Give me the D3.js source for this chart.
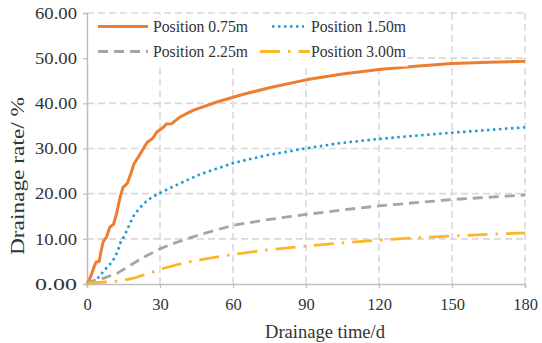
<!DOCTYPE html>
<html><head><meta charset="utf-8">
<script src="https://cdn.jsdelivr.net/npm/d3@7/dist/d3.min.js"></script>
<style>
html,body{margin:0;padding:0;background:#fff;}
svg text{font-family:"Liberation Serif","Times New Roman",serif;fill:#333;}
</style></head><body>
<svg id="chart" width="542" height="343"></svg>
<script>
const seriesNames = ["Position 0.75m","Position 1.50m","Position 2.25m","Position 3.00m"];
const xTicks = [0,30,60,90,120,150,180];
const yTicks = [0,10,20,30,40,50,60];

const days075 = [0,0.3,1.5,2.9,3.8,5,5.6,6.6,8,9.4,10.9,12.1,13.6,14.8,16.6,18,19.3,21.4,23.5,24.8,26.9,28.6,29.6,31.6,32.5,34.8,38.3,43.8,53.4,64.3,75.4,90,105,120,135,150,165,180];
const vals075 = [0,0.3,1.6,3.8,4.9,4.9,6.8,9.3,10.4,12.6,13.2,15.5,19.2,21.4,22.3,24.4,26.6,28.4,30.3,31.4,32.2,33.6,34,34.8,35.4,35.5,37,38.5,40.3,42,43.5,45.2,46.5,47.5,48.2,48.8,49.1,49.3];

const days150 = [0,3.2,5,6.6,8.4,10.4,12.5,13.9,15.5,17.3,19.1,21.4,24.2,26.9,29.6,31.6,38.3,46.5,60.2,73.8,89.6,104,119.7,134.1,149.9,165,180];
const vals150 = [0,0.7,1.6,2.7,3.8,4.9,7.1,9.4,10.8,13,15,16.7,18.2,19.3,20.0,20.6,22.3,24.3,26.8,28.5,30,31.2,32.1,32.8,33.5,34.1,34.7];

const days225 = [0,0.8,7,12.5,18,23.5,30.4,37.2,46.8,60,75,90,105,120,135,150,165,180];
const vals225 = [0,0.5,1.3,2.4,4.2,6,7.9,9.3,11.0,13.0,14.3,15.4,16.4,17.3,18.0,18.7,19.2,19.7];

const days300 = [0,0.8,9,13.8,19.3,26.2,30.3,39.9,48.1,60.5,75,90.4,105,119.2,135,149.3,165,180];
const vals300 = [0,0.2,0.5,0.7,1.3,2.5,3.3,4.7,5.5,6.6,7.6,8.4,9.1,9.7,10.2,10.6,11,11.3];

const colors = ["#ED7D31","#1B9AD6","#A5A5A5","#FDB52A"];
const dashes = [null,"2.5,3.5","10,6","20,8,2.5,8"];
const widths = [3,2.6,2.8,2.8];

const series = [
  {name:seriesNames[0], d:days075, v:vals075},
  {name:seriesNames[1], d:days150, v:vals150},
  {name:seriesNames[2], d:days225, v:vals225},
  {name:seriesNames[3], d:days300, v:vals300}
];

const L=87,R=525,T=13,B=284;
const svg = d3.select("#chart");
const x = d3.scaleLinear().domain([0,180]).range([L,R]);
const y = d3.scaleLinear().domain([0,60]).range([B,T]);

// grid
const grid = svg.append("g");
grid.selectAll("line.h").data(yTicks.filter(t=>t>0)).join("line")
  .attr("x1",L).attr("x2",R).attr("y1",d=>y(d)).attr("y2",d=>y(d))
  .attr("stroke","#d9d9d9").attr("stroke-width",1.6).attr("stroke-dasharray","7,4");
grid.selectAll("line.v").data(xTicks.filter(t=>t>0)).join("line")
  .attr("y1",T).attr("y2",B).attr("x1",d=>x(d)).attr("x2",d=>x(d))
  .attr("stroke","#d9d9d9").attr("stroke-width",1.6).attr("stroke-dasharray","7,4");

// axes
const xAxis = svg.append("g").attr("transform",`translate(0,${B})`)
  .call(d3.axisBottom(x).tickValues(xTicks).tickSize(4).tickPadding(6).tickFormat(d3.format("d")));
const yAxis = svg.append("g").attr("transform",`translate(${L},0)`)
  .call(d3.axisLeft(y).tickValues(yTicks).tickSize(4).tickPadding(6).tickFormat(d3.format(".2f")));
[xAxis,yAxis].forEach(a=>{
  a.select(".domain").attr("stroke","#bfbfbf").attr("stroke-width",1.6);
  a.selectAll(".tick line").attr("stroke","#bfbfbf").attr("stroke-width",1.2);
  a.selectAll("text").attr("font-size","16.5px").attr("fill","#333")
    .style("font-family","'Liberation Serif',serif");
});
xAxis.selectAll("text").attr("dy","0.95em");
yAxis.selectAll("text").attr("x",-10);
yAxis.selectAll(".tick text").each(function(){ this.setAttribute("textLength", 42); this.setAttribute("lengthAdjust","spacingAndGlyphs"); });

// lines
const line = d3.line().x(p=>x(p[0])).y(p=>y(p[1]));
const lineG = svg.append("g");
series.forEach((s,i)=>{
  const pts = s.d.map((dd,k)=>[dd,s.v[k]]);
  lineG.append("path").attr("d",line(pts)).attr("fill","none")
    .attr("stroke",colors[i]).attr("stroke-width",widths[i])
    .attr("stroke-dasharray",dashes[i]).attr("stroke-linejoin","round");
});

// legend
const lg = svg.append("g");
lg.append("rect").attr("x",L+1.5).attr("y",T+1.5).attr("width",319).attr("height",52).attr("fill","#fff");
const legPos = [[98,148,153,26.5],[272,304,311,26.5],[98,148,153,51.5],[260,310,311,51.5]];
series.forEach((s,i)=>{
  const [x1,x2,tx,ty] = legPos[i];
  lg.append("line").attr("x1",x1).attr("x2",x2).attr("y1",ty).attr("y2",ty)
    .attr("stroke",colors[i]).attr("stroke-width",widths[i]).attr("stroke-dasharray",dashes[i]);
  lg.append("text").attr("x",tx).attr("y",ty).attr("dy","0.35em")
    .attr("font-size","17px").attr("textLength",95).attr("lengthAdjust","spacingAndGlyphs").text(s.name);
});

// titles
svg.append("text").attr("x",325).attr("y",332).attr("dy","0.35em").attr("text-anchor","middle")
  .attr("font-size","18px").attr("textLength",120).attr("lengthAdjust","spacingAndGlyphs").text("Drainage time/d");
svg.append("text").attr("transform","translate(18,176) rotate(-90)").attr("dy","0.35em").attr("text-anchor","middle")
  .attr("font-size","18px").attr("textLength",158).attr("lengthAdjust","spacingAndGlyphs").text("Drainage rate/ %");
</script>
</body></html>
